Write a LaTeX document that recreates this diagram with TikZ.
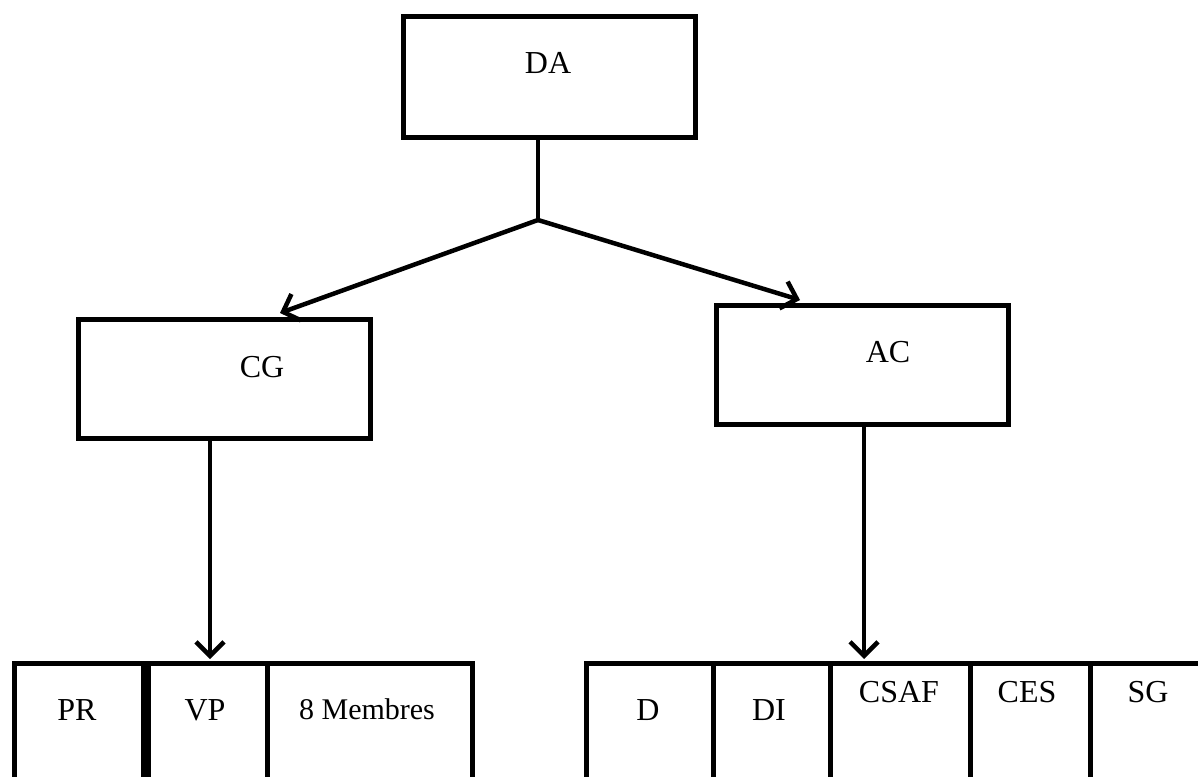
\documentclass[tikz,border=0pt]{standalone}
\usepackage{fontspec}
\setmainfont{Liberation Serif}
\usetikzlibrary{arrows.meta}
\begin{document}
\begin{tikzpicture}[x=1pt,y=-1pt,
  box/.style={draw, line width=5pt, rectangle, inner sep=0pt, anchor=north west},
  txt/.style={inner sep=0pt, font=\fontsize{32}{38}\selectfont, text height=21pt, text depth=0pt},
  smalltxt/.style={inner sep=0pt, font=\fontsize{30}{36}\selectfont, text height=20pt, text depth=0pt},
  conn/.style={line width=4.5pt},
  arr/.style={line width=4.5pt, -{Straight Barb[length=14pt,width=28pt]}}]
\useasboundingbox (0,0) rectangle (1198,776);
\clip (0,0) rectangle (1198,776);
% top boxes
\node[box, minimum width=292pt, minimum height=121pt] (DA) at (401,14) {};
\node[box, minimum width=292pt, minimum height=119pt] (CG) at (76,317) {};
\node[box, minimum width=292pt, minimum height=119pt] (AC) at (714,303) {};
\node[txt] (tDA) at (548,63) {DA};
\node[txt] (tCG) at (262,367) {CG};
\node[txt] (tAC) at (888,352) {AC};
% bottom left cells
\node[box, minimum width=129pt, minimum height=140pt] (PR) at (12,661) {};
\node[box, minimum width=119pt, minimum height=140pt] (VP) at (146,661) {};
\node[box, minimum width=205pt, minimum height=140pt] (MB) at (265,661) {};
\node[txt] (tPR) at (77,710) {PR};
\node[txt] (tVP) at (205,710) {VP};
\node[smalltxt] (tMB) at (367,709) {8 Membres};
% bottom right cells
\node[box, minimum width=127pt, minimum height=140pt] (D) at (584,661) {};
\node[box, minimum width=117pt, minimum height=140pt] (DI) at (711,661) {};
\node[box, minimum width=140pt, minimum height=140pt] (CSAF) at (828,661) {};
\node[box, minimum width=120pt, minimum height=140pt] (CES) at (968,661) {};
\node[box, minimum width=150pt, minimum height=140pt] (SG) at (1088,661) {};
\node[txt] (tD) at (648,710) {D};
\node[txt] (tDI) at (769,710) {DI};
\node[txt] (tCSAF) at (899,692) {CSAF};
\node[txt] (tCES) at (1027,692) {CES};
\node[txt] (tSG) at (1148,692) {SG};
% connectors
\coordinate (j) at (538,220);
\coordinate (tipL) at (280,313);
\coordinate (tipR) at (800,300);
\coordinate (tipVP) at (210,659);
\coordinate (tipCSAF) at (864,659);
\draw[conn] (DA.south -| j) -- (j);
\draw[arr] (j) -- (tipL);
\draw[arr] (j) -- (tipR);
\draw[arr] (CG.south -| tipVP) -- (tipVP);
\draw[arr] (AC.south -| tipCSAF) -- (tipCSAF);
\end{tikzpicture}
\end{document}
